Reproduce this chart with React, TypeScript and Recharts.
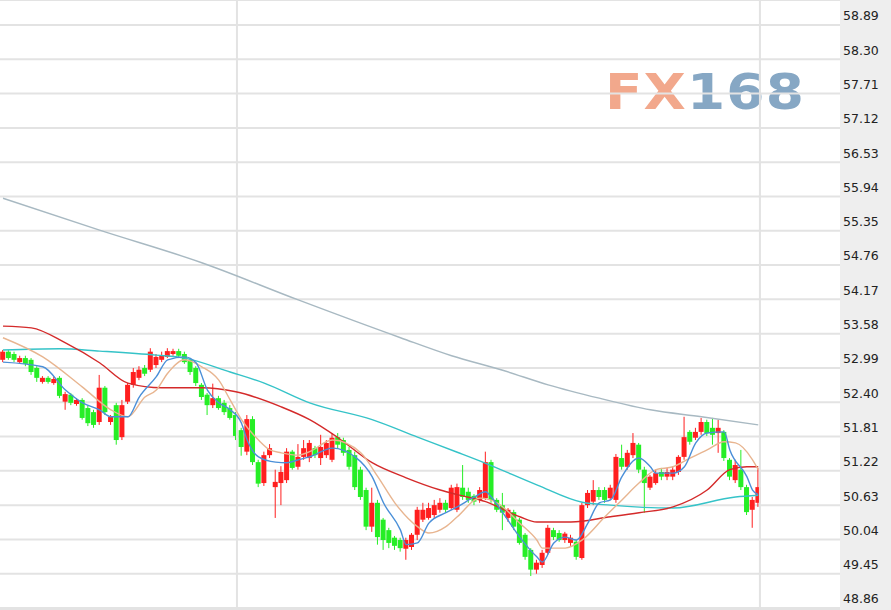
import {
  ComposedChart,
  Bar,
  Line,
  XAxis,
  YAxis,
  CartesianGrid,
  ReferenceLine,
} from 'recharts';

// daily candles, left to right: [open, close, high, low]
const candles: number[][] = [
  [53.13, 53.27, 53.30, 53.09], [53.27, 53.16, 53.30, 53.13], [53.23, 53.13, 53.27, 53.09],
  [53.09, 53.16, 53.20, 53.06], [53.16, 53.06, 53.20, 53.02], [53.13, 52.92, 53.16, 52.87],
  [52.99, 52.82, 53.02, 52.75], [52.75, 52.82, 52.85, 52.72], [52.82, 52.75, 52.85, 52.72],
  [52.73, 52.80, 52.84, 52.70], [52.82, 52.51, 52.85, 52.47], [52.41, 52.54, 52.58, 52.27],
  [52.53, 52.39, 52.56, 52.35], [52.37, 52.44, 52.47, 52.34], [52.44, 52.13, 52.47, 52.10],
  [52.30, 52.04, 52.35, 51.99], [52.23, 52.01, 52.27, 51.96], [52.06, 52.65, 52.87, 52.01],
  [52.65, 52.23, 52.68, 52.18], [52.06, 52.15, 52.18, 52.01], [52.35, 51.75, 52.39, 51.67],
  [51.80, 52.35, 52.44, 51.75], [52.41, 52.70, 52.73, 52.37], [52.70, 52.92, 52.99, 52.65],
  [52.82, 52.96, 53.02, 52.78], [52.99, 52.89, 53.04, 52.85], [52.96, 53.27, 53.33, 52.92],
  [53.04, 53.18, 53.23, 52.99], [53.13, 53.21, 53.27, 53.09], [53.18, 53.28, 53.33, 53.16],
  [53.23, 53.28, 53.32, 53.20], [53.28, 53.20, 53.32, 53.16], [53.23, 53.09, 53.27, 53.06],
  [53.13, 52.92, 53.16, 52.87], [52.99, 52.73, 53.02, 52.68], [52.70, 52.49, 52.73, 52.44],
  [52.53, 52.35, 52.56, 52.18], [52.35, 52.47, 52.72, 52.30], [52.47, 52.30, 52.51, 52.27],
  [52.39, 52.23, 52.44, 52.18], [52.30, 52.13, 52.35, 52.10], [52.18, 51.82, 52.23, 51.75],
  [51.92, 51.63, 51.96, 51.48], [51.55, 52.11, 52.18, 51.49], [52.11, 51.37, 52.16, 51.32],
  [51.37, 51.00, 51.41, 50.94], [51.01, 51.49, 51.55, 50.96], [51.49, 51.61, 51.68, 51.44],
  [50.94, 51.03, 51.24, 50.41], [51.01, 51.20, 51.30, 50.63], [51.06, 51.55, 51.61, 51.01],
  [51.55, 51.27, 51.58, 51.24], [51.29, 51.46, 51.68, 51.24], [51.46, 51.61, 51.75, 51.41],
  [51.44, 51.70, 51.75, 51.37], [51.61, 51.49, 51.65, 51.44], [51.44, 51.63, 51.84, 51.32],
  [51.49, 51.70, 51.75, 51.44], [51.41, 51.79, 51.87, 51.37], [51.80, 51.67, 51.87, 51.61],
  [51.75, 51.53, 51.79, 51.48], [51.58, 51.29, 51.63, 51.24], [51.49, 50.94, 51.55, 50.89],
  [51.24, 50.77, 51.29, 50.72], [50.89, 50.26, 50.93, 50.20], [50.26, 50.67, 50.93, 50.17],
  [50.67, 50.08, 50.72, 49.95], [50.38, 50.03, 50.41, 49.86], [50.20, 49.98, 50.24, 49.89],
  [50.07, 49.93, 50.10, 49.86], [50.03, 49.89, 50.07, 49.83], [49.88, 50.03, 50.07, 49.69],
  [49.91, 50.12, 50.15, 49.86], [50.12, 50.55, 50.60, 50.03], [50.38, 50.55, 50.67, 50.34],
  [50.41, 50.58, 50.67, 50.38], [50.46, 50.63, 50.72, 50.41], [50.55, 50.67, 50.75, 50.50],
  [50.67, 50.55, 50.72, 50.50], [50.58, 50.93, 50.98, 50.55], [50.55, 50.94, 51.00, 50.51],
  [50.93, 50.77, 51.32, 50.72], [50.86, 50.72, 50.93, 50.67], [50.79, 50.69, 50.82, 50.63],
  [50.72, 50.89, 50.94, 50.67], [50.75, 51.37, 51.55, 50.72], [51.37, 50.72, 51.41, 50.67],
  [50.72, 50.55, 50.75, 50.51], [50.63, 50.50, 50.84, 50.20], [50.41, 50.55, 50.58, 50.34],
  [50.51, 50.26, 50.55, 50.20], [50.38, 49.98, 50.41, 49.95], [50.12, 49.74, 50.15, 49.69],
  [49.86, 49.52, 49.89, 49.41], [49.52, 49.64, 49.69, 49.45], [49.60, 49.81, 49.86, 49.55],
  [49.81, 50.24, 50.29, 49.78], [50.20, 50.08, 50.24, 50.03], [50.15, 50.03, 50.20, 50.00],
  [50.03, 50.14, 50.17, 49.98], [49.98, 50.07, 50.12, 49.93], [50.00, 49.74, 50.03, 49.69],
  [49.72, 50.63, 50.67, 49.69], [50.63, 50.84, 50.89, 50.58], [50.69, 50.89, 51.06, 50.63],
  [50.89, 50.77, 50.94, 50.72], [50.89, 50.72, 50.94, 50.67], [50.75, 50.93, 50.98, 50.72],
  [50.72, 51.46, 51.51, 50.67], [51.44, 51.29, 51.67, 51.24], [51.29, 51.53, 51.58, 51.24],
  [51.49, 51.70, 51.87, 51.44], [51.67, 51.24, 51.70, 51.18], [51.24, 51.01, 51.29, 50.50],
  [50.93, 51.12, 51.15, 50.89], [51.01, 51.18, 51.24, 50.98], [51.20, 51.12, 51.27, 51.06],
  [51.12, 51.20, 51.27, 51.06], [51.12, 51.24, 51.30, 51.06], [51.20, 51.46, 51.49, 51.15],
  [51.46, 51.80, 52.15, 51.41], [51.89, 51.72, 51.92, 51.67], [51.79, 51.89, 51.96, 51.75],
  [51.89, 52.06, 52.13, 51.84], [52.06, 51.87, 52.10, 51.82], [51.96, 51.84, 52.13, 51.67],
  [51.87, 51.96, 52.10, 51.53], [51.89, 51.44, 51.92, 51.39], [51.41, 51.12, 51.44, 51.06],
  [51.06, 51.32, 51.41, 51.01], [51.24, 50.94, 51.58, 50.89], [50.94, 50.51, 50.98, 50.46],
  [50.55, 50.72, 50.77, 50.24], [50.67, 50.94, 51.27, 50.60],
];

// moving averages as [candle index, value]
const ma5 = [
  [0, 53.09], [7, 53.01], [11, 52.61], [14, 52.39], [17, 52.27], [19, 52.15], [22, 52.15],
  [24, 52.49], [27, 52.84], [29, 53.13], [32, 53.18], [34, 53.08], [36, 52.61], [38, 52.39],
  [40, 52.27], [42, 52.04], [43, 51.75], [45, 51.46], [48, 51.37], [50, 51.36], [52, 51.41],
  [54, 51.46], [58, 51.61], [62, 51.46], [65, 51.12], [67, 50.67], [70, 50.2], [71, 49.95],
  [73, 49.98], [75, 50.32], [78, 50.5], [80, 50.6], [83, 50.77], [85, 50.86], [86, 50.77],
  [88, 50.5], [91, 50.08], [94, 49.74], [95, 49.65], [97, 49.98], [99, 50.08], [101, 50.03],
  [103, 50.32], [105, 50.67], [107, 50.72], [109, 51.12], [112, 51.44], [114, 51.29],
  [115, 51.18], [118, 51.18], [120, 51.29], [122, 51.7], [124, 51.87], [127, 51.89],
  [128, 51.58], [131, 51.12], [132, 50.89], [133, 50.81],
];
const ma10 = [
  [0, 53.51], [7, 53.18], [14, 52.66], [19, 52.27], [22, 52.15], [25, 52.49], [27, 52.61],
  [29, 52.9], [32, 53.13], [35, 53.01], [38, 52.78], [40, 52.44], [42, 52.1], [45, 51.75],
  [47, 51.58], [49, 51.53], [52, 51.49], [54, 51.55], [58, 51.75], [63, 51.53], [66, 51.12],
  [69, 50.67], [73, 50.26], [75, 50.15], [78, 50.26], [80, 50.43], [84, 50.75], [87, 50.67],
  [91, 50.32], [94, 50.03], [95, 49.89], [99, 49.89], [102, 50.03], [106, 50.43], [109, 50.72],
  [112, 51.01], [115, 51.24], [118, 51.29], [121, 51.44], [124, 51.58], [127, 51.72],
  [129, 51.7], [132, 51.41], [133, 51.24],
];
const ma20 = [
  [0, 53.71], [5, 53.68], [11, 53.42], [17, 53.08], [22, 52.73], [28, 52.65], [35, 52.65],
  [41, 52.58], [49, 52.32], [54, 52.1], [59, 51.79], [65, 51.36], [71, 51.1], [77, 50.89],
  [80, 50.81], [85, 50.69], [91, 50.43], [94, 50.34], [100, 50.34], [107, 50.43], [112, 50.5],
  [118, 50.6], [124, 50.89], [128, 51.24], [131, 51.29], [133, 51.29],
];
const ma60 = [
  [0, 53.3], [10, 53.32], [17, 53.28], [27, 53.21], [32, 53.16], [40, 52.92], [46, 52.73],
  [54, 52.39], [65, 52.1], [73, 51.8], [80, 51.54], [85, 51.35], [94, 50.98], [102, 50.68],
  [107, 50.63], [118, 50.58], [129, 50.77], [133, 50.8],
];
const ma120 = [
  [0, 55.91], [17, 55.36], [35, 54.8], [52, 54.16], [70, 53.51], [79, 53.2], [88, 52.95],
  [96, 52.7], [105, 52.47], [114, 52.27], [123, 52.15], [133, 52.01],
];

const yTicks = [
  48.86, 49.45, 50.04, 50.63, 51.22, 51.81, 52.4, 52.99, 53.58,
  54.17, 54.76, 55.35, 55.94, 56.53, 57.12, 57.71, 58.3, 58.89,
];

// month boundaries, in candle index units
const monthLines = [41.2, 133.3];

const UP = '#ff1f1f';
const DOWN = '#26ee26';

const lookup = (pts: number[][]) => new Map(pts.map(([i, v]) => [i, v]));
const m5 = lookup(ma5);
const m10 = lookup(ma10);
const m20 = lookup(ma20);
const m60 = lookup(ma60);
const m120 = lookup(ma120);

const data = candles.map(([open, close, high, low], i) => ({
  i,
  open,
  close,
  high,
  low,
  range: [low, high],
  ma5: m5.get(i) ?? null,
  ma10: m10.get(i) ?? null,
  ma20: m20.get(i) ?? null,
  ma60: m60.get(i) ?? null,
  ma120: m120.get(i) ?? null,
}));

const Candle = (props: any) => {
  const { x, y, width, height, payload } = props;
  if (!payload) return null;
  const { open, close, high, low } = payload;
  const top = Math.min(y, y + height);
  const h = Math.abs(height);
  const span = high - low || 1;
  const py = (v: number) => top + ((high - v) / span) * h;
  const color = close >= open ? UP : DOWN;
  const cx = x + width / 2;
  const bTop = py(Math.max(open, close));
  const bBot = py(Math.min(open, close));
  return (
    <g>
      <line x1={cx} x2={cx} y1={top} y2={top + h} stroke={color} strokeWidth={1} />
      <rect
        x={cx - 2.5}
        y={bTop}
        width={5}
        height={Math.max(1, bBot - bTop)}
        fill={color}
      />
    </g>
  );
};

const PriceTick = ({ x, y, payload }: any) => (
  <text
    x={x}
    y={y - 9}
    dy="0.35em"
    fill="#222"
    fontSize={12.5}
    fontFamily="DejaVu Sans, Verdana, sans-serif"
  >
    {payload.value.toFixed(2)}
  </text>
);

const lineProps = {
  type: 'monotone' as const,
  dot: false,
  activeDot: false,
  connectNulls: true,
  isAnimationActive: false,
  strokeWidth: 1.4,
};

export default function App() {
  return (
    <div
      style={{
        position: 'absolute',
        left: 0,
        top: 0,
        width: 891,
        height: 610,
        background: '#fff',
        overflow: 'hidden',
      }}
    >
      <div
        style={{
          position: 'absolute',
          left: 840,
          top: 0,
          width: 51,
          height: 610,
          background: '#eeeeee',
        }}
      />
      <div
        style={{
          position: 'absolute',
          left: 605,
          top: 65,
          fontFamily: 'DejaVu Sans, Verdana, sans-serif',
          fontWeight: 'bold',
          fontSize: 49,
          letterSpacing: 1,
          lineHeight: '56px',
          transform: 'scaleX(1.12)',
          transformOrigin: 'left center',
          whiteSpace: 'nowrap',
        }}
      >
        <span style={{ color: '#f2a88c' }}>FX</span>
        <span style={{ color: '#86a7c4' }}>168</span>
      </div>
      <ComposedChart
        width={891}
        height={610}
        data={data}
        margin={{ top: 0, right: 0, bottom: 0, left: 0 }}
        style={{ position: 'absolute', left: 0, top: 0 }}
      >
        <CartesianGrid vertical={false} stroke="#e3e3e3" strokeWidth={2} />
        <XAxis
          dataKey="i"
          type="number"
          domain={[-0.53, 147.4]}
          allowDataOverflow
          hide
        />
        <YAxis
          orientation="right"
          width={51}
          domain={[48.826, 59.32]}
          ticks={yTicks}
          interval={0}
          allowDataOverflow
          axisLine={false}
          tickLine={false}
          tickSize={0}
          tickMargin={3}
          tick={<PriceTick />}
        />
        {monthLines.map((m) => (
          <ReferenceLine key={m} x={m} stroke="#e3e3e3" strokeWidth={2} />
        ))}
        <Line dataKey="ma120" stroke="#a8b9c2" {...lineProps} />
        <Line dataKey="ma60" stroke="#35c3c8" {...lineProps} />
        <Line dataKey="ma20" stroke="#d42a2a" {...lineProps} />
        <Bar
          dataKey="range"
          barSize={5}
          shape={<Candle />}
          isAnimationActive={false}
        />
        <Line dataKey="ma10" stroke="#e8b590" {...lineProps} />
        <Line dataKey="ma5" stroke="#4a8fd8" {...lineProps} />
      </ComposedChart>
    </div>
  );
}
